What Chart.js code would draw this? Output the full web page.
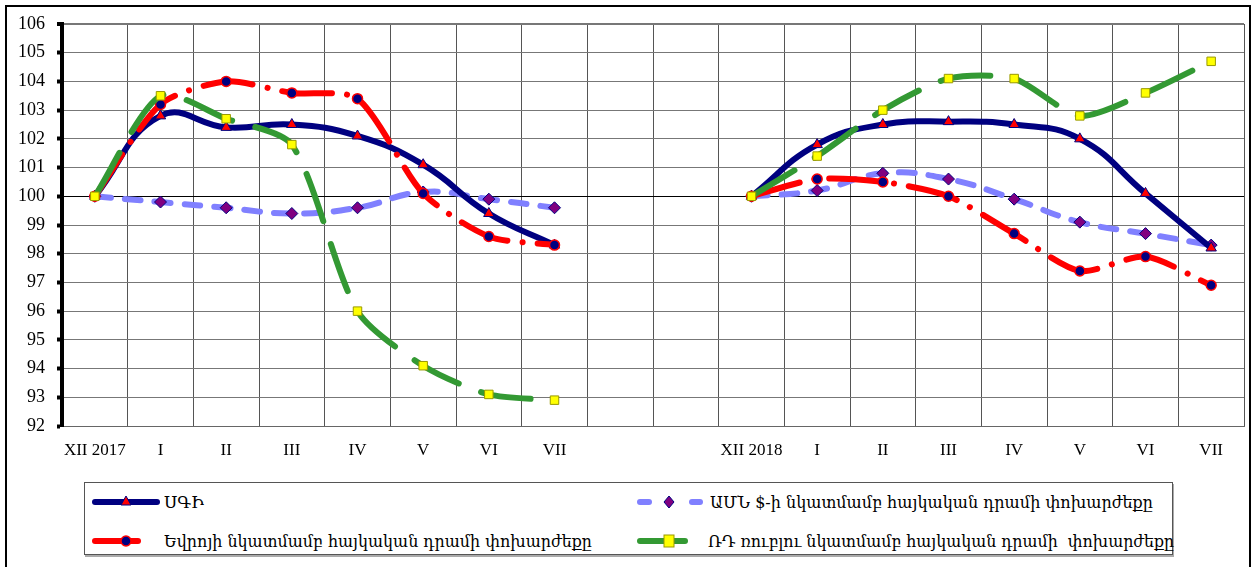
<!DOCTYPE html>
<html lang="hy">
<head>
  <meta charset="UTF-8">
  <title>ՍԳԻ և փոխարժեքներ</title>
  <script src="https://cdn.jsdelivr.net/npm/chart.js"></script>
  <style>
    html, body { margin: 0; padding: 0; background: #fff; overflow: hidden; }
    body { width: 1251px; height: 567px; position: relative; }
    .frame { position: absolute; left: 5px; top: 5px; width: 1246px; height: 620px;
             border: 2px solid #000; box-sizing: border-box; }
    .chart-box { position: absolute; left: 0; top: 0; width: 1251px; height: 470px; }
    .legend { position: absolute; left: 84px; top: 482px; width: 1089px; height: 73px;
              border: 1px solid #555; box-sizing: border-box; background: #fff;
              box-shadow: 1px 2px 0 #aaa; }
    .item { position: absolute; height: 24px; }
    .item svg { position: absolute; left: 0; top: 0; }
    .item span { position: absolute; top: 0; line-height: 24px; white-space: pre;
                 font-family: "DejaVu Serif Condensed", "DejaVu Serif", serif; font-size: 17px;
                 color: #000; transform-origin: left center; }
  </style>
</head>
<body>
  <div class="frame"></div>
  <div class="chart-box">
    <canvas id="cpiChart" width="1251" height="470"></canvas>
  </div>

  <div class="legend">
    <div class="item" style="left:7px; top:7px;">
      <svg width="72" height="24">
        <line x1="3" y1="12" x2="65" y2="12" stroke="#000080" stroke-width="6" stroke-linecap="round"/>
        <polygon points="34,6 39,15 29,15" fill="#ff0000" stroke="#000080" stroke-width="1"/>
      </svg>
      <span style="left:72px" data-w="40">ՍԳԻ</span>
    </div>
    <div class="item" style="left:7px; top:46px;">
      <svg width="72" height="24">
        <line x1="3" y1="12" x2="46" y2="12" stroke="#ff0000" stroke-width="6" stroke-linecap="round"/>
        <circle cx="34" cy="12" r="5" fill="#000080" stroke="#ff0000" stroke-width="1.5"/>
      </svg>
      <span style="left:72px" data-w="428">Եվրոյի նկատմամբ հայկական դրամի փոխարժեքը</span>
    </div>
    <div class="item" style="left:552px; top:7px;">
      <svg width="72" height="24">
        <line x1="3" y1="12" x2="12" y2="12" stroke="#8080ff" stroke-width="6" stroke-linecap="round"/>
        <line x1="55" y1="12" x2="63" y2="12" stroke="#8080ff" stroke-width="6" stroke-linecap="round"/>
        <polygon points="32,6 37,12 32,18 27,12" fill="#800080" stroke="#000080" stroke-width="1"/>
      </svg>
      <span style="left:73px" data-w="443">ԱՄՆ $-ի նկատմամբ հայկական դրամի փոխարժեքը</span>
    </div>
    <div class="item" style="left:552px; top:46px;">
      <svg width="72" height="24">
        <line x1="3" y1="12" x2="48" y2="12" stroke="#339933" stroke-width="6" stroke-linecap="round"/>
        <rect x="27" y="6" width="10" height="12" fill="#ffff00" stroke="#999900" stroke-width="1"/>
      </svg>
      <span style="left:71px" data-w="466">ՌԴ ռուբլու նկատմամբ հայկական դրամի  փոխարժեքը</span>
    </div>
  </div>

  <script>
    // ամիսները (XII-ից XII), երկու տարի, մեջտեղում դատարկ տեղ
    const labels = ['XII 2017', 'I', 'II', 'III', 'IV', 'V', 'VI', 'VII', '', '',
                    'XII 2018', 'I', 'II', 'III', 'IV', 'V', 'VI', 'VII'];

    const cpiValues = [100, 102.8, 102.4, 102.5, 102.1, 101.1, 99.4, 98.3, null, null,
                       100, 101.8, 102.5, 102.6, 102.5, 102.0, 100.1, 98.2];
    const usdValues = [100, 99.8, 99.6, 99.4, 99.6, 100.15, 99.9, 99.6, null, null,
                       100, 100.2, 100.8, 100.6, 99.9, 99.1, 98.7, 98.3];
    const eurValues = [100, 103.2, 104.0, 103.6, 103.4, 100.1, 98.6, 98.3, null, null,
                       100, 100.6, 100.5, 100.0, 98.7, 97.4, 97.9, 96.9];
    const rubValues = [100, 103.5, 102.7, 101.8, 96.0, 94.1, 93.1, 92.9, null, null,
                       100, 101.4, 103.0, 104.1, 104.1, 102.8, 103.6, 104.7];

    const seriesNames = ['ՍԳԻ',
                         'ԱՄՆ $-ի նկատմամբ հայկական դրամի փոխարժեքը',
                         'Եվրոյի նկատմամբ հայկական դրամի փոխարժեքը',
                         'ՌԴ ռուբլու նկատմամբ հայկական դրամի  փոխարժեքը'];

    const yMin = 92, yMax = 106;
    const serif = '"Liberation Serif", "Times New Roman", serif';

    const ctx = document.getElementById('cpiChart').getContext('2d');
    new Chart(ctx, {
      type: 'line',
      data: {
        labels: labels,
        datasets: [
          {
            label: seriesNames[3],
            data: rubValues,
            order: 0,
            borderColor: '#339933',
            borderWidth: 6,
            borderDash: [50, 24],
            borderCapStyle: 'round',
            tension: 0.25,
            pointStyle: 'rect',
            pointRadius: 6,
            pointBackgroundColor: '#ffff00',
            pointBorderColor: '#999900',
            pointBorderWidth: 1
          },
          {
            label: seriesNames[2],
            data: eurValues,
            order: 1,
            borderColor: '#ff0000',
            borderWidth: 6,
            borderDash: [50, 15, 0.1, 15],
            borderCapStyle: 'round',
            tension: 0.25,
            pointStyle: 'circle',
            pointRadius: 5,
            pointBackgroundColor: '#000080',
            pointBorderColor: '#ff0000',
            pointBorderWidth: 1.5
          },
          {
            label: seriesNames[0],
            data: cpiValues,
            order: 2,
            borderColor: '#000080',
            borderWidth: 6,
            tension: 0.45,
            pointStyle: 'triangle',
            pointRadius: 6,
            pointBackgroundColor: '#ff0000',
            pointBorderColor: '#000080',
            pointBorderWidth: 1
          },
          {
            label: seriesNames[1],
            data: usdValues,
            order: 3,
            borderColor: '#8080ff',
            borderWidth: 6,
            borderDash: [16, 14],
            borderCapStyle: 'round',
            tension: 0.45,
            pointStyle: 'rectRot',
            pointRadius: 6,
            pointBackgroundColor: '#800080',
            pointBorderColor: '#000080',
            pointBorderWidth: 1
          }
        ]
      },
      options: {
        responsive: false,
        animation: false,
        devicePixelRatio: 1,
        spanGaps: false,
        layout: { padding: { left: 0, right: 2, top: 24, bottom: 0 } },
        plugins: {
          legend: { display: false },
          tooltip: { enabled: false }
        },
        scales: {
          x: {
            offset: true,
            grid: { offset: true, color: '#555', lineWidth: 1, drawTicks: false },
            border: { color: '#666', width: 1 },
            ticks: {
              autoSkip: false, maxRotation: 0, padding: 14,
              color: '#000', font: { family: serif, size: 17 }
            },
            afterFit(scale) { scale.height = 44; }
          },
          y: {
            min: yMin, max: yMax,
            ticks: {
              stepSize: 1, padding: 12, color: '#000',
              font: { family: serif, size: 18 }
            },
            grid: {
              color: c => c.tick && c.tick.value === 100 ? '#000' : '#777',
              lineWidth: c => c.tick && c.tick.value === 106 ? 2 : 1,
              tickLength: 5, tickColor: '#000', tickWidth: 4
            },
            border: { color: '#000', width: 4 },
            afterFit(scale) { scale.width = 62; }
          }
        }
      }
    });

    // legend text fitted to the original widths
    document.fonts.ready.then(() => {
      document.querySelectorAll('.item span').forEach(s => {
        const w = s.getBoundingClientRect().width;
        const target = +s.dataset.w;
        if (w > 0) s.style.transform = 'scaleX(' + (target / w).toFixed(3) + ')';
      });
    });
  </script>
</body>
</html>
